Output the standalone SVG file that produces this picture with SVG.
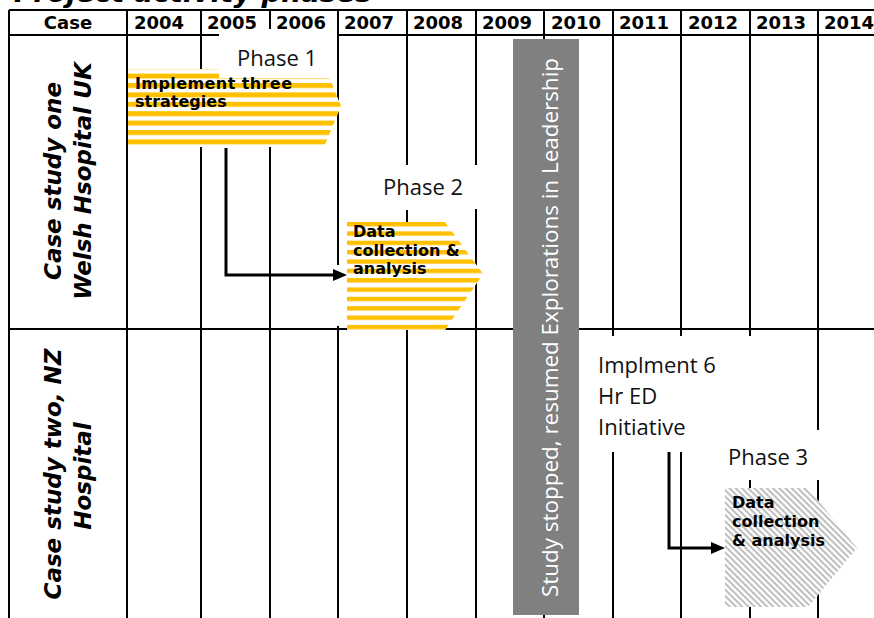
<svg xmlns="http://www.w3.org/2000/svg" width="874" height="618" viewBox="0 0 874 618">
  <defs>
    <style>
      .grid{stroke:#000;stroke-width:2;fill:none}
      .hdr{font-family:"DejaVu Sans",Verdana,sans-serif;font-weight:bold;font-size:18px;fill:#000}
      .title{font-family:"DejaVu Sans",Verdana,sans-serif;font-weight:bold;font-style:italic;font-size:27px;fill:#000}
      .row{font-family:"DejaVu Sans",Verdana,sans-serif;font-weight:bold;font-style:italic;font-size:23px;text-anchor:middle;fill:#000}
      .box{font-family:"DejaVu Sans",Verdana,sans-serif;font-weight:bold;font-size:16px;fill:#000}
      .lbl{font-family:"Open Sans","Noto Sans",sans-serif;font-size:22px;fill:#111}
      .bar{font-family:"Open Sans","Noto Sans",sans-serif;font-size:22px;fill:#fff;text-anchor:middle}
      .conn{stroke:#000;stroke-width:3;fill:none;marker-end:url(#arrow)}
    </style>
    <pattern id="gold1" patternUnits="userSpaceOnUse" x="0" y="73.6" width="20" height="9.4">
      <rect width="20" height="5" fill="#FFC000"/>
    </pattern>
    <pattern id="gold2" patternUnits="userSpaceOnUse" x="0" y="222" width="20" height="9.35">
      <rect width="20" height="4.4" fill="#FFC000"/>
    </pattern>
    <pattern id="hatch" patternUnits="userSpaceOnUse" width="10" height="4.4" patternTransform="rotate(45)">
      <rect width="10" height="2" fill="#bdbdbd"/>
    </pattern>
    <marker id="arrow" viewBox="0 0 14 12" markerUnits="userSpaceOnUse" markerWidth="14" markerHeight="12" refX="7" refY="6" orient="auto">
      <path d="M0,0 L14,6 L0,12 z" fill="#000"/>
    </marker>
  </defs>

  <rect width="874" height="618" fill="#fff"/>

  <!-- title, mostly above the top edge -->
  <text class="title" x="14" y="2" textLength="358" lengthAdjust="spacingAndGlyphs">Project activity phases</text>

  <!-- table grid -->
  <g id="grid">
    <path class="grid" d="M9,10 H874 M9,35 H219 M337,35 H874 M9,329 H874"/>
    <path class="grid" d="M9,10 V618 M127,10 V618 M201,10 V618
      M270,10 V29 M270,78 V618
      M338,10 V265 M338,326 V618
      M407,10 V165 M407,210 V618
      M476,10 V165 M476,209 V618
      M544,10 V618
      M613,10 V336 M613,452 V618
      M681,10 V336 M681,452 V618
      M750,10 V336 M750,480 V618
      M818,10 V430 M818,480 V618"/>
  </g>

  <!-- header row -->
  <g id="header">
    <text class="hdr" x="68" y="29" text-anchor="middle">Case</text>
    <text class="hdr" x="134" y="29">2004</text>
    <text class="hdr" x="207" y="29">2005</text>
    <text class="hdr" x="276" y="29">2006</text>
    <text class="hdr" x="344" y="29">2007</text>
    <text class="hdr" x="413" y="29">2008</text>
    <text class="hdr" x="482" y="29">2009</text>
    <text class="hdr" x="551" y="29">2010</text>
    <text class="hdr" x="619" y="29">2011</text>
    <text class="hdr" x="688" y="29">2012</text>
    <text class="hdr" x="756" y="29">2013</text>
    <text class="hdr" x="824" y="29">2014</text>
  </g>

  <!-- row headings -->
  <g id="case-one">
    <text class="row" transform="translate(61,181) rotate(-90)">Case study one</text>
    <text class="row" transform="translate(91,181) rotate(-90)">Welsh Hsopital UK</text>
  </g>
  <g id="case-two">
    <text class="row" transform="translate(61,474) rotate(-90)">Case study two, NZ</text>
    <text class="row" transform="translate(91,476) rotate(-90)">Hospital</text>
  </g>

  <!-- pause in the study -->
  <g id="pause-bar">
    <rect x="513" y="39" width="66" height="576" fill="#808080"/>
    <text class="bar" transform="translate(558,327.5) rotate(-90)" textLength="539" lengthAdjust="spacingAndGlyphs">Study stopped, resumed Explorations in Leadership</text>
  </g>

  <!-- connectors -->
  <g id="connectors">
    <path class="conn" d="M226,148 V275 H340"/>
    <path class="conn" d="M669,452 V548 H718"/>
  </g>

  <!-- phase 1 -->
  <g id="phase1">
    <polygon points="128,69 219,69 219,78 329.6,78 341,106 324,147 128,147" fill="#fff"/>
    <polygon points="128,69 219,69 219,78 329.6,78 341,106 324,147 128,147" fill="url(#gold1)"/>
    <text class="box" x="135" y="89" textLength="157" lengthAdjust="spacing">Implement three</text>
    <text class="box" x="135" y="107">strategies</text>
    <text class="lbl" x="237" y="66">Phase 1</text>
  </g>

  <!-- phase 2 -->
  <g id="phase2">
    <polygon points="347,222 445,222 483,274 445,330 347,330" fill="#fff"/>
    <polygon points="347,222 445,222 483,274 445,330 347,330" fill="url(#gold2)"/>
    <text class="box" x="353" y="237">Data</text>
    <text class="box" x="353" y="256">collection &amp;</text>
    <text class="box" x="353" y="274">analysis</text>
    <text class="lbl" x="383" y="195">Phase 2</text>
  </g>

  <!-- six-hour ED initiative -->
  <g id="initiative">
    <text class="lbl" x="598" y="373">Implment 6</text>
    <text class="lbl" x="598" y="404">Hr ED</text>
    <text class="lbl" x="598" y="435">Initiative</text>
  </g>

  <!-- phase 3 -->
  <g id="phase3">
    <polygon points="725,488 808,488 857,548 808,607 725,607" fill="#fff"/>
    <polygon points="725,488 808,488 857,548 808,607 725,607" fill="url(#hatch)"/>
    <text class="box" x="732" y="508">Data</text>
    <text class="box" x="732" y="527">collection</text>
    <text class="box" x="732" y="546">&amp; analysis</text>
    <text class="lbl" x="728" y="465">Phase 3</text>
  </g>
</svg>
